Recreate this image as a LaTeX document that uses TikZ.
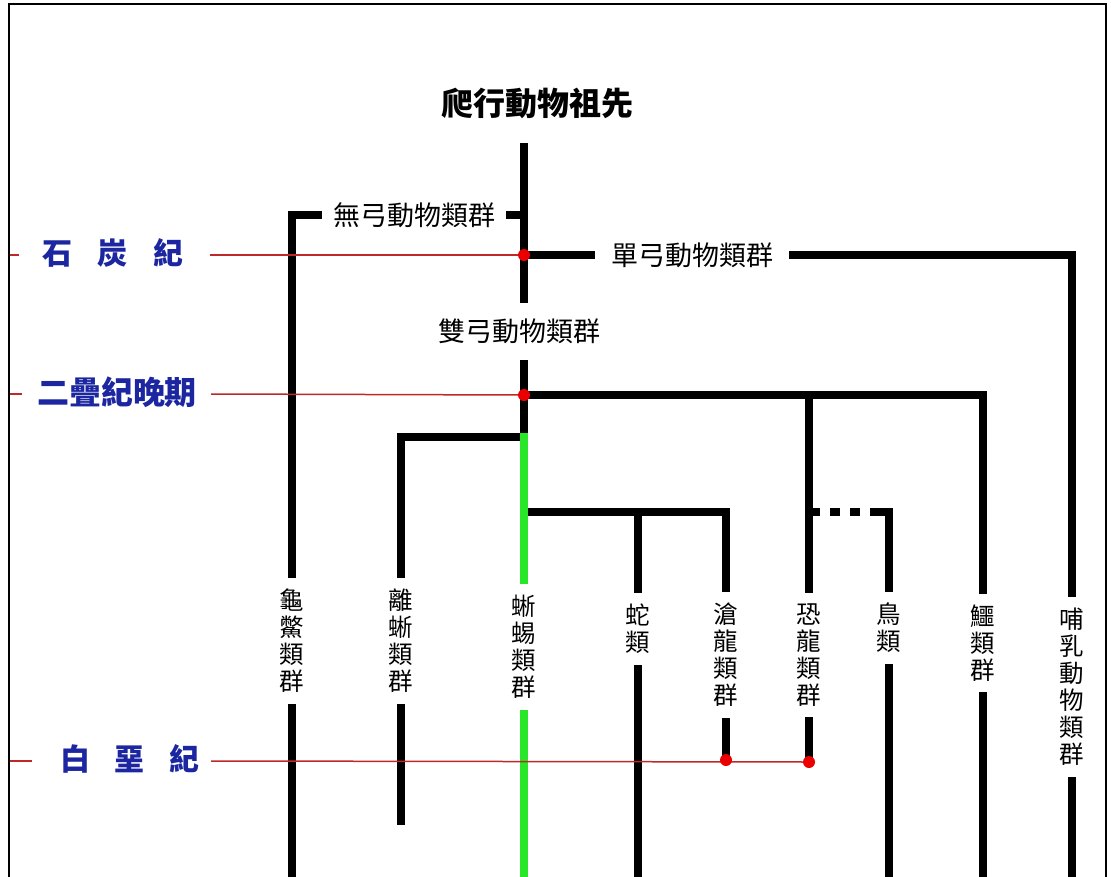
\documentclass[tikz,border=0pt]{standalone}
\usepackage{fontspec}
\setmainfont{Noto Sans CJK TC}
\definecolor{eraBlue}{RGB}{28,38,160}
\definecolor{eraRed}{RGB}{190,40,40}
\definecolor{dotRed}{RGB}{235,0,0}
\definecolor{lizGreen}{RGB}{40,230,40}
\begin{document}
\begin{tikzpicture}[x=1pt,y=-1pt,
  br/.style={line width=8pt, line join=miter, line cap=butt, draw=black},
  lbl/.style={fill=white, inner ysep=4pt, font=\fontsize{27}{30}\selectfont},
  vlbl/.style={fill=white, align=center, inner xsep=3pt, inner ysep=11pt, font=\fontsize{24.5}{27}\selectfont},
  era/.style={text=eraBlue, inner sep=0pt, font=\bfseries\fontsize{30}{32}\selectfont},
  eraline/.style={draw=eraRed, line width=1.5pt},
  reddot/.style={circle, fill=dotRed, inner sep=0pt, minimum size=12pt}
]
\useasboundingbox (0,0) rectangle (1111,876);
% frame
\draw[line width=2pt] (9,900) -- (9,4) -- (1106,4) -- (1106,900);

% title
\node[font=\bfseries\fontsize{32}{36}\selectfont] (title) at (537,103) {爬行動物祖先};

% named points
\coordinate (top) at (524,143);
\coordinate (anj) at (524,215);
\coordinate (anc) at (292,215);
\coordinate (anb) at (292,880);
\coordinate (c1) at (524,255);
\coordinate (syc) at (1072,255);
\coordinate (syb) at (1072,880);
\coordinate (p1) at (524,395);
\coordinate (dn) at (809,395);
\coordinate (dnb) at (809,762);
\coordinate (crc) at (983,395);
\coordinate (crb) at (983,880);
\coordinate (grn) at (524,433);
\coordinate (lepj) at (524,437);
\coordinate (lepc) at (401,437);
\coordinate (lepb) at (401,825);
\coordinate (sqj) at (524,512);
\coordinate (snj) at (638,512);
\coordinate (snb) at (638,880);
\coordinate (msc) at (726,512);
\coordinate (msb) at (726,760);
\coordinate (bdj) at (805,512);
\coordinate (bdc) at (889,512);
\coordinate (bdb) at (889,880);
\coordinate (bot) at (524,880);

% black branches
\draw[br] (top) -- (grn);
\draw[br] (anj) -- (anc) -- (anb);
\draw[br] (c1) -- (syc) -- (syb);
\draw[br] (p1) -- (crc) -- (crb);
\draw[br] (dn) -- (dnb);
\draw[br, dash pattern=on 15pt off 10pt on 10pt off 10pt on 10pt off 10pt on 400pt] (bdj) -- (bdc) -- (bdb);
\draw[br] (lepj) -- (lepc) -- (lepb);
\draw[br] (sqj) -- (msc) -- (msb);
\draw[br] (snj) -- (snb);
% green lizard line
\draw[br, draw=lizGreen] (grn) -- (bot);

% labels on branches
\node[lbl, inner xsep=11pt] (anap) at (414,215) {無弓動物類群};
\node[lbl, inner xsep=16pt] (syna) at (692,255) {單弓動物類群};
\node[lbl, inner ysep=16pt, inner xsep=4pt] (diap) at (519,331) {雙弓動物類群};

\node[vlbl] (turt) at (292,641) {龜\\鱉\\類\\群};
\node[vlbl] (rhyn) at (401,641) {離\\蜥\\類\\群};
\node[vlbl] (liz) at (524,647) {蜥\\蜴\\類\\群};
\node[vlbl] (snk) at (638,629) {蛇\\類};
\node[vlbl] (mos) at (726,655) {滄\\龍\\類\\群};
\node[vlbl] (dino) at (809,655) {恐\\龍\\類\\群};
\node[vlbl] (bird) at (889,628) {鳥\\類};
\node[vlbl] (croc) at (983,643) {鱷\\類\\群};
\node[vlbl] (mamm) at (1072,687) {哺\\乳\\動\\物\\類\\群};

% eras
\node[era] (carb) at (113,253) {石\hspace{26pt}炭\hspace{26pt}紀};
\node[era, font=\bfseries\fontsize{32}{34}\selectfont] (perm) at (117,392) {二疊紀晚期};
\node[era] (cret) at (130,759) {白\hspace{25pt}堊\hspace{25pt}紀};

\coordinate (cs0) at (10,255); \coordinate (cs1) at (19,255); \coordinate (cl0) at (210,255);
\coordinate (ps0) at (10,394); \coordinate (ps1) at (22,394); \coordinate (pl0) at (211,394);
\coordinate (ks0) at (10,761); \coordinate (ks1) at (32,761); \coordinate (kl0) at (211,761);
\draw[eraline] (cs0) -- (cs1);
\draw[eraline] (cl0) -- (c1);
\draw[eraline] (ps0) -- (ps1);
\draw[eraline] (pl0) -- (p1);
\draw[eraline] (ks0) -- (ks1);
\draw[eraline] (kl0) -- (dnb);

% red dots
\node[reddot] (d1) at (c1) {};
\node[reddot] (d2) at (p1) {};
\node[reddot] (d3) at (msb) {};
\node[reddot] (d4) at (dnb) {};
\end{tikzpicture}
\end{document}
